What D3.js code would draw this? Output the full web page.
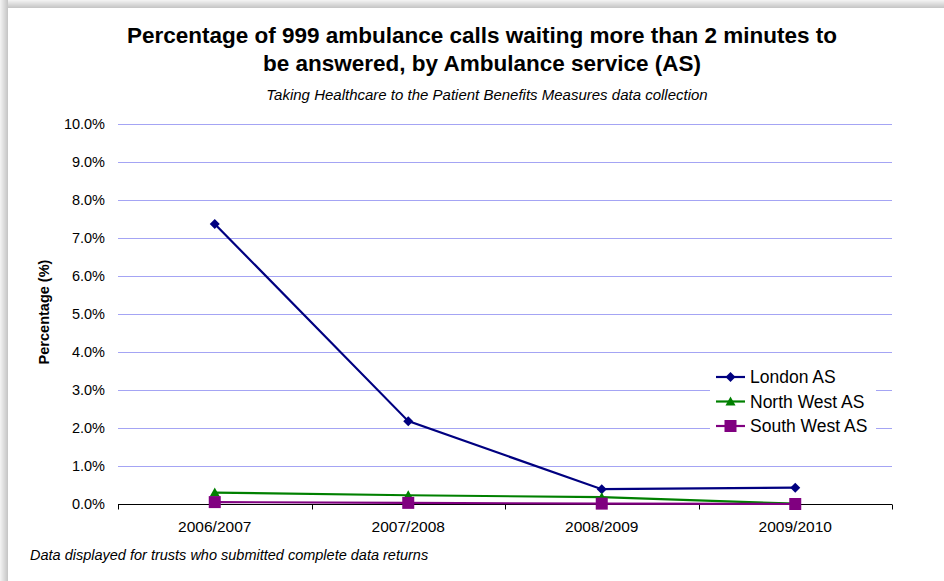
<!DOCTYPE html>
<html>
<head>
<meta charset="utf-8">
<script src="https://cdn.jsdelivr.net/npm/d3@7"></script>
<style>
  body { margin: 0; background: #fff; }
  text { font-family: Arial, "Liberation Sans", sans-serif; fill: #000; }
</style>
</head>
<body>
<div id="chart"></div>
<script>
// categories and series values (percent)
var years = ["2006/2007", "2007/2008", "2008/2009", "2009/2010"];
var london = [7.37, 2.18, 0.39, 0.43];
var northWest = [0.30, 0.23, 0.18, 0.01];
var southWest = [0.05, 0.03, 0.01, 0.0];
var yTicks = [0, 1, 2, 3, 4, 5, 6, 7, 8, 9, 10];

var series = [
    { name: "London AS", values: london, color: "#000080", shape: "diamond" },
    { name: "North West AS", values: northWest, color: "#008000", shape: "triangle" },
    { name: "South West AS", values: southWest, color: "#800080", shape: "square" }
];

var W = 944, H = 581;
var margin = { left: 118, right: 52, top: 124, bottom: 77 };
var width = W - margin.left - margin.right, height = H - margin.top - margin.bottom;

var svg = d3.select("#chart").append("svg")
    .attr("width", W)
    .attr("height", H);

// shadow along top and left edge
var defs = svg.append("defs");
var gTop = defs.append("linearGradient").attr("id", "shTop")
    .attr("x1", "0%").attr("y1", "0%").attr("x2", "0%").attr("y2", "100%");
gTop.append("stop").attr("offset", "0%").attr("stop-color", "#f4f4f4");
gTop.append("stop").attr("offset", "100%").attr("stop-color", "#c4c4c4");
var gLeft = defs.append("linearGradient").attr("id", "shLeft")
    .attr("x1", "0%").attr("y1", "0%").attr("x2", "100%").attr("y2", "0%");
gLeft.append("stop").attr("offset", "0%").attr("stop-color", "#f4f4f4");
gLeft.append("stop").attr("offset", "100%").attr("stop-color", "#c4c4c4");
svg.append("rect").attr("x", 0).attr("y", 0).attr("width", W).attr("height", 8).style("fill", "url(#shTop)");
svg.append("rect").attr("x", 0).attr("y", 0).attr("width", 8).attr("height", H).style("fill", "url(#shLeft)");
svg.append("rect").attr("x", 8).attr("y", 8).attr("width", W - 8).attr("height", H - 8).attr("fill", "#fff");

// titles
svg.append("text").attr("x", 482).attr("y", 43)
    .attr("text-anchor", "middle").attr("font-size", 22.5).attr("font-weight", "bold")
    .text("Percentage of 999 ambulance calls waiting more than 2 minutes to");
svg.append("text").attr("x", 482).attr("y", 71)
    .attr("text-anchor", "middle").attr("font-size", 22.5).attr("font-weight", "bold")
    .text("be answered, by Ambulance service (AS)");
svg.append("text").attr("x", 487).attr("y", 100)
    .attr("text-anchor", "middle").attr("font-size", 15).attr("font-style", "italic")
    .text("Taking Healthcare to the Patient Benefits Measures data collection");

var g = svg.append("g").attr("transform", "translate(" + margin.left + "," + margin.top + ")");

var x = d3.scaleBand().domain(years).range([0, width]);
var y = d3.scaleLinear().domain([0, 10]).range([height, 0]);

// gridlines
g.selectAll(".grid")
    .data(yTicks.filter(function(d) { return d > 0; }))
    .enter().append("line")
    .attr("x1", 0).attr("x2", width)
    .attr("y1", function(d) { return Math.round(y(d)) + 0.5; })
    .attr("y2", function(d) { return Math.round(y(d)) + 0.5; })
    .attr("stroke", "#a4a4f4").attr("stroke-width", 1);

// y axis labels
g.selectAll(".ylab")
    .data(yTicks)
    .enter().append("text")
    .attr("x", -13)
    .attr("y", function(d) { return y(d); })
    .attr("dy", "0.35em")
    .attr("text-anchor", "end")
    .attr("font-size", 14.5)
    .text(function(d) { return d.toFixed(1) + "%"; });

// x axis
var xAxis = g.append("g").attr("transform", "translate(0," + (Math.round(height) + 0.5) + ")");
xAxis.append("line").attr("x1", 0).attr("x2", width).attr("stroke", "#000");
var tickPos = years.map(function(d) { return x(d); }).concat([width]);
xAxis.selectAll(".tick")
    .data(tickPos)
    .enter().append("line")
    .attr("x1", function(d) { return Math.round(d) + 0.5; })
    .attr("x2", function(d) { return Math.round(d) + 0.5; })
    .attr("y1", 0).attr("y2", 5)
    .attr("stroke", "#000");
xAxis.selectAll(".xlab")
    .data(years)
    .enter().append("text")
    .attr("x", function(d) { return x(d) + x.bandwidth() / 2; })
    .attr("y", 27)
    .attr("text-anchor", "middle")
    .attr("font-size", 15.5)
    .text(function(d) { return d; });

// y axis title
svg.append("text")
    .attr("transform", "translate(49," + (margin.top + height / 2 - 2) + ") rotate(-90)")
    .attr("text-anchor", "middle")
    .attr("font-size", 14.5).attr("font-weight", "bold")
    .text("Percentage (%)");

// footnote
svg.append("text").attr("x", 30).attr("y", 560)
    .attr("font-size", 14.5).attr("font-style", "italic")
    .text("Data displayed for trusts who submitted complete data returns");

function marker(sel, shape, color) {
    if (shape === "diamond") {
        sel.append("path").attr("d", "M0,-5L5,0L0,5L-5,0Z").attr("fill", color);
    } else if (shape === "triangle") {
        sel.append("path").attr("d", "M0,-5L5,4L-5,4Z").attr("fill", color);
    } else {
        sel.append("rect").attr("x", -6).attr("y", -6).attr("width", 12).attr("height", 12).attr("fill", color);
    }
}

var line = d3.line()
    .x(function(d, i) { return x(years[i]) + x.bandwidth() / 2; })
    .y(function(d) { return y(d); });

series.forEach(function(s) {
    g.append("path")
        .attr("d", line(s.values))
        .attr("fill", "none")
        .attr("stroke", s.color)
        .attr("stroke-width", 2.2);
});
series.forEach(function(s) {
    s.values.forEach(function(v, i) {
        var m = g.append("g")
            .attr("transform", "translate(" + (x(years[i]) + x.bandwidth() / 2) + "," + y(v) + ")");
        marker(m, s.shape, s.color);
    });
});

// legend
var leg = svg.append("g").attr("transform", "translate(710,364)");
leg.append("rect").attr("x", 0).attr("y", 0).attr("width", 166).attr("height", 74).attr("fill", "#fff");
series.forEach(function(s, i) {
    var row = leg.append("g").attr("transform", "translate(6," + (13 + i * 24.5) + ")");
    row.append("line").attr("x1", 0).attr("x2", 29).attr("stroke", s.color).attr("stroke-width", 2.2);
    var m = row.append("g").attr("transform", "translate(14.5,0)");
    marker(m, s.shape, s.color);
    row.append("text").attr("x", 34).attr("y", 0).attr("dy", "0.35em")
        .attr("font-size", 17.5).text(s.name);
});
</script>
</body>
</html>
